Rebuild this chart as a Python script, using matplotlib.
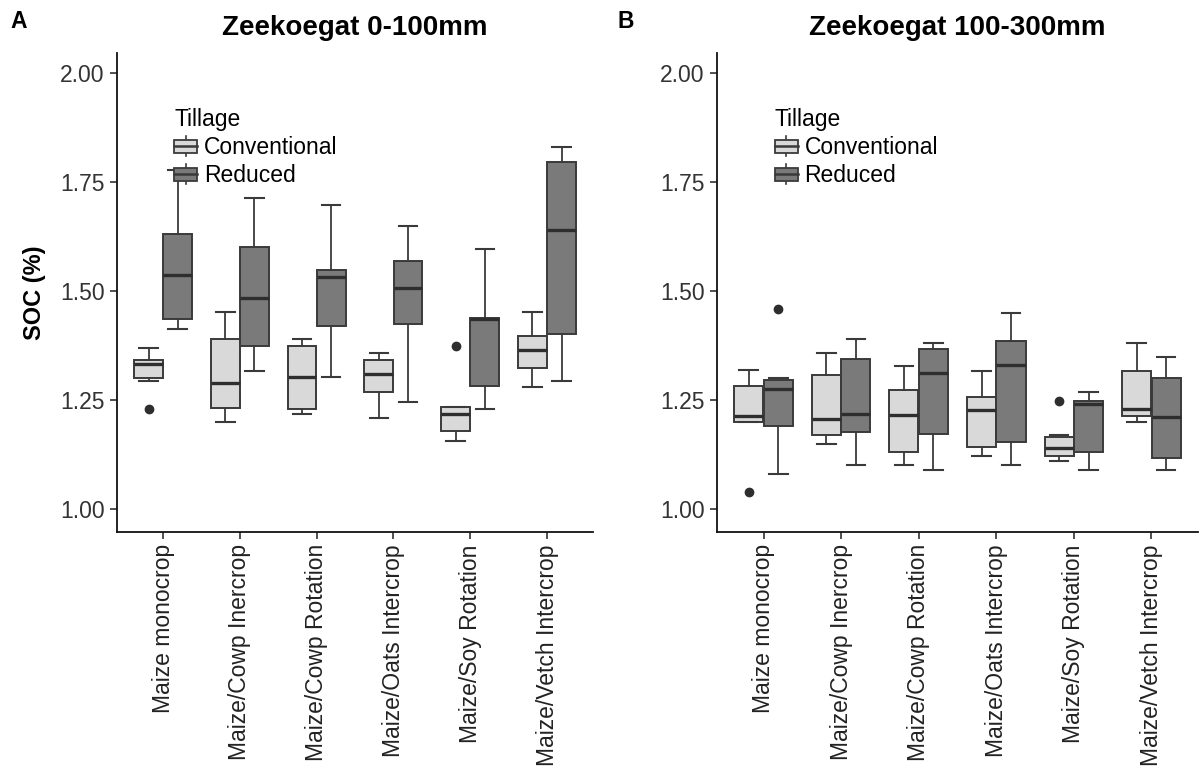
import matplotlib
matplotlib.use("Agg")
import matplotlib.pyplot as plt
from matplotlib.legend_handler import HandlerBase
from matplotlib.patches import Rectangle, Patch
from matplotlib.lines import Line2D

plt.rcParams['font.family'] = ['Liberation Sans', 'DejaVu Sans']

categories = ["Maize monocrop", "Maize/Cowp Inercrop", "Maize/Cowp Rotation",
              "Maize/Oats Intercrop", "Maize/Soy Rotation", "Maize/Vetch Intercrop"]
tillage = ["Conventional", "Reduced"]

# Panel A (0-100mm): per category [whislo, q1, med, q3, whishi], fliers
a_conv = [[1.293, 1.299, 1.331, 1.341, 1.369],
          [1.199, 1.230, 1.287, 1.389, 1.451],
          [1.217, 1.228, 1.301, 1.373, 1.389],
          [1.209, 1.268, 1.308, 1.341, 1.358],
          [1.154, 1.178, 1.218, 1.233, 1.233],
          [1.279, 1.323, 1.364, 1.396, 1.451]]
a_conv_fliers = [[1.228], [], [], [], [1.373], []]
a_red = [[1.413, 1.434, 1.536, 1.631, 1.776],
         [1.316, 1.373, 1.482, 1.599, 1.713],
         [1.302, 1.420, 1.532, 1.547, 1.696],
         [1.244, 1.423, 1.505, 1.568, 1.648],
         [1.228, 1.282, 1.434, 1.438, 1.596],
         [1.292, 1.400, 1.639, 1.795, 1.830]]
a_red_fliers = [[], [], [], [], [], []]

# Panel B (100-300mm)
b_conv = [[1.199, 1.199, 1.212, 1.282, 1.318],
          [1.148, 1.169, 1.205, 1.306, 1.358],
          [1.100, 1.130, 1.214, 1.272, 1.327],
          [1.120, 1.142, 1.226, 1.255, 1.316],
          [1.110, 1.120, 1.140, 1.165, 1.169],
          [1.199, 1.213, 1.228, 1.316, 1.379]]
b_conv_fliers = [[1.037], [], [], [], [1.247], []]
b_red = [[1.079, 1.189, 1.274, 1.296, 1.300],
         [1.100, 1.176, 1.218, 1.344, 1.389],
         [1.088, 1.172, 1.310, 1.367, 1.379],
         [1.100, 1.152, 1.329, 1.385, 1.448],
         [1.088, 1.130, 1.240, 1.247, 1.268],
         [1.088, 1.117, 1.211, 1.299, 1.348]]
b_red_fliers = [[1.458], [], [], [], [], []]

titles = ["Zeekoegat 0-100mm", "Zeekoegat 100-300mm"]
panel_letters = ["A", "B"]
yticks = [1.00, 1.25, 1.50, 1.75, 2.00]

fills = {"Conventional": "#D9D9D9", "Reduced": "#7A7A7A"}
edge = "#3a3a3a"


def make_stats(rows, fliers):
    out = []
    for r, f in zip(rows, fliers):
        out.append(dict(whislo=r[0], q1=r[1], med=r[2], q3=r[3], whishi=r[4], fliers=f))
    return out


class BoxHandler(HandlerBase):
    def create_artists(self, legend, orig_handle, xdescent, ydescent, width, height, fontsize, trans):
        x0, y0 = -xdescent, -ydescent
        fc = orig_handle.get_facecolor()
        bh = height * 0.68
        by = y0 + (height - bh) / 2
        rect = Rectangle((x0, by), width, bh, facecolor=fc, edgecolor=edge, linewidth=1.3, transform=trans)
        med = Line2D([x0, x0 + width], [y0 + height / 2] * 2, color=edge, linewidth=1.8, transform=trans)
        w1 = Line2D([x0 + width / 2] * 2, [y0, by], color=edge, linewidth=1.2, transform=trans)
        w2 = Line2D([x0 + width / 2] * 2, [by + bh, y0 + height], color=edge, linewidth=1.2, transform=trans)
        return [w1, w2, rect, med]


fig = plt.figure(figsize=(12.03, 7.80), dpi=100)
axA = fig.add_axes([0.0973, 0.3183, 0.3957, 0.6137])
axB = fig.add_axes([0.5960, 0.3183, 0.3998, 0.6137])

datasets = [
    (a_conv, a_conv_fliers, a_red, a_red_fliers),
    (b_conv, b_conv_fliers, b_red, b_red_fliers),
]

for ax, (conv, convf, red, redf), title, letter in zip([axA, axB], datasets, titles, panel_letters):
    n = len(categories)
    base = list(range(1, n + 1))
    for stats, offs, name in [(make_stats(conv, convf), -0.19, "Conventional"),
                              (make_stats(red, redf), 0.19, "Reduced")]:
        ax.bxp(stats, positions=[b + offs for b in base], widths=0.375, patch_artist=True,
               capwidths=0.24, manage_ticks=False,
               boxprops=dict(facecolor=fills[name], edgecolor=edge, linewidth=1.4),
               medianprops=dict(color="#2e2e2e", linewidth=2.4),
               whiskerprops=dict(color=edge, linewidth=1.3),
               capprops=dict(color=edge, linewidth=1.5),
               flierprops=dict(marker='o', markerfacecolor="#2e2e2e", markeredgecolor="#2e2e2e",
                               markersize=6))
    ax.set_xlim(0.4, n + 0.6)
    ax.set_ylim(0.947, 2.045)
    ax.set_xticks(base)
    ax.set_xticklabels(categories, rotation=90, fontsize=16.5, color="#222222")
    ax.set_yticks(yticks)
    ax.set_yticklabels([f"{v:.2f}" for v in yticks], fontsize=16.5, color="#333333")
    for s in ["top", "right"]:
        ax.spines[s].set_visible(False)
    for s in ["left", "bottom"]:
        ax.spines[s].set_linewidth(1.3)
        ax.spines[s].set_color("#111111")
    ax.tick_params(axis='both', length=5, width=1.2, color="#333333", pad=4)
    ax.set_title(title, fontsize=20, fontweight='bold', pad=13)
    handles = [Patch(facecolor=fills[t], edgecolor=edge) for t in tillage]
    leg = ax.legend(handles, tillage, title="Tillage", loc="upper left",
                    bbox_to_anchor=(0.12, 0.885), frameon=False, fontsize=16.5,
                    title_fontsize=16.5, handler_map={Patch: BoxHandler()},
                    handlelength=1.0, handleheight=0.95, handletextpad=0.3,
                    labelspacing=0.22, borderpad=0, borderaxespad=0)
    leg._legend_box.align = "left"

axA.set_ylabel("SOC (%)", fontsize=17, fontweight='bold', labelpad=10)

fig.text(19 / 1203, 1 - 21 / 780, "A", fontsize=16.5, fontweight='bold', ha='center', va='center')
fig.text(626 / 1203, 1 - 21 / 780, "B", fontsize=16.5, fontweight='bold', ha='center', va='center')

fig.savefig("out.png", dpi=100, facecolor="white")
